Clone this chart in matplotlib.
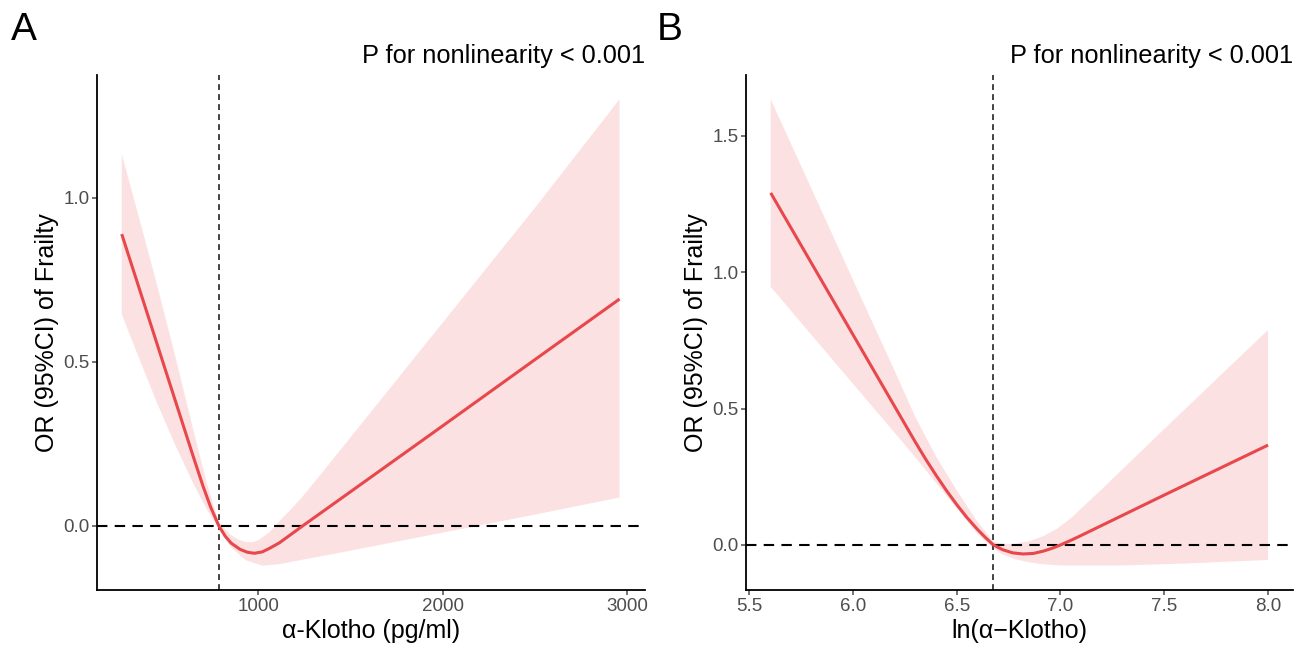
import matplotlib
matplotlib.use("Agg")
import matplotlib.pyplot as plt

plt.rcParams['font.family'] = ['Liberation Sans', 'DejaVu Sans']

# ---------------- Panel A data (alpha-Klotho, pg/ml) ----------------
a_x = [259, 350, 450, 550, 650, 700, 740, 785, 820, 852, 900, 940, 978, 1020, 1060, 1114, 1180, 1241,
       1500, 2000, 2500, 2957]
a_y = [0.889, 0.730, 0.555, 0.380, 0.205, 0.120, 0.058, 0.0, -0.032, -0.053, -0.072, -0.081, -0.084,
       -0.080, -0.069, -0.052, -0.025, 0.0, 0.104, 0.305, 0.507, 0.691]
a_up_x = [259, 350, 450, 550, 650, 720, 785, 820, 850, 890, 933, 970, 1000, 1060, 1120, 1180, 1241,
          1350, 1500, 2000, 2500, 2957]
a_up = [1.133, 0.945, 0.735, 0.515, 0.285, 0.130, 0.010, -0.012, -0.028, -0.042, -0.050, -0.050,
        -0.044, -0.020, 0.018, 0.052, 0.090, 0.165, 0.270, 0.620, 0.970, 1.300]
a_lo_x = [259, 350, 450, 550, 650, 720, 785, 850, 930, 1023, 1114, 1500, 2000, 2500, 2957]
a_lo = [0.645, 0.515, 0.375, 0.245, 0.125, 0.050, -0.010, -0.065, -0.105, -0.122, -0.117, -0.076,
        -0.021, 0.034, 0.086]
a_ref = 785
a_xticks = [1000, 2000, 3000]
a_yticks = [0.0, 0.5, 1.0]

# ---------------- Panel B data (ln alpha-Klotho) ----------------
b_x = [5.604, 5.80, 6.00, 6.20, 6.30, 6.35, 6.40, 6.45, 6.50, 6.55, 6.60, 6.64, 6.677, 6.72, 6.77,
       6.82, 6.87, 6.92, 6.96, 7.00, 7.05, 7.10, 7.50, 8.00]
b_y = [1.290, 1.033, 0.771, 0.509, 0.378, 0.315, 0.256, 0.200, 0.148, 0.100, 0.057, 0.026, 0.0,
       -0.017, -0.029, -0.033, -0.031, -0.022, -0.012, 0.0, 0.017, 0.035, 0.183, 0.366]
b_up_x = [5.604, 5.80, 6.00, 6.20, 6.30, 6.40, 6.50, 6.60, 6.677, 6.72, 6.78, 6.85, 6.92, 6.98,
          7.05, 7.20, 7.50, 8.00]
b_up = [1.633, 1.306, 0.972, 0.640, 0.470, 0.325, 0.200, 0.085, 0.012, 0.004, 0.004, 0.014, 0.033,
        0.058, 0.098, 0.205, 0.425, 0.788]
b_lo_x = [5.604, 5.80, 6.00, 6.20, 6.30, 6.40, 6.50, 6.60, 6.677, 6.72, 6.78, 6.85, 6.92, 7.00,
          7.30, 7.60, 8.00]
b_lo = [0.946, 0.770, 0.591, 0.412, 0.322, 0.228, 0.135, 0.040, -0.012, -0.035, -0.052, -0.064,
        -0.071, -0.075, -0.075, -0.068, -0.055]
b_ref = 6.677
b_xticks = [5.5, 6.0, 6.5, 7.0, 7.5, 8.0]
b_yticks = [0.0, 0.5, 1.0, 1.5]

LINE = "#E8474B"
FILL = "#FCE1E3"
TICKC = "#4D4D4D"

fig = plt.figure(figsize=(13.03, 6.45), dpi=100)
axA = fig.add_axes([97/1303, 55/645, 548/1303, 515/645])
axB = fig.add_axes([746/1303, 55/645, 547/1303, 515/645])


def style(ax, xlabel):
    for s in ['top', 'right']:
        ax.spines[s].set_visible(False)
    for s in ['left', 'bottom']:
        ax.spines[s].set_linewidth(1.3)
        ax.spines[s].set_color('black')
    ax.tick_params(axis='both', colors=TICKC, labelcolor=TICKC, labelsize=13.5,
                   length=3.5, width=1.1, pad=2)
    ax.set_xlabel(xlabel, fontsize=18, labelpad=3)
    ax.set_ylabel("OR (95%CI) of Frailty", fontsize=18, labelpad=3)
    ax.set_title("P for nonlinearity < 0.001", loc='right', fontsize=18.3, pad=9)


def draw(ax, x, y, ux, uy, lx, ly, ref):
    poly_x = list(ux) + list(lx)[::-1]
    poly_y = list(uy) + list(ly)[::-1]
    ax.fill(poly_x, poly_y, color=FILL, lw=0, zorder=1)
    ax.axhline(0, color='black', lw=1.5, ls=(0, (5, 3.5)), zorder=2)
    ax.axvline(ref, color='#222222', lw=1.2, ls=(0, (3.5, 2.5)), zorder=2)
    ax.plot(x, y, color=LINE, lw=2.2, zorder=3, solid_capstyle='butt', solid_joinstyle='round')


draw(axA, a_x, a_y, a_up_x, a_up, a_lo_x, a_lo, a_ref)
axA.set_xlim(125, 3095)
axA.set_ylim(-0.196, 1.374)
axA.set_xticks(a_xticks)
axA.set_yticks(a_yticks)
axA.set_yticklabels([f"{v:.1f}" for v in a_yticks])
style(axA, "α-Klotho (pg/ml)")

draw(axB, b_x, b_y, b_up_x, b_up, b_lo_x, b_lo, b_ref)
axB.set_xlim(5.485, 8.12)
axB.set_ylim(-0.165, 1.722)
axB.set_xticks(b_xticks)
axB.set_xticklabels([f"{v:.1f}" for v in b_xticks])
axB.set_yticks(b_yticks)
axB.set_yticklabels([f"{v:.1f}" for v in b_yticks])
style(axB, "ln(α\u2212Klotho)")

fig.text(11/1303, 1 - 40/645, "A", fontsize=28, ha='left', va='baseline')
fig.text(657/1303, 1 - 40/645, "B", fontsize=28, ha='left', va='baseline')

fig.savefig("out.png", dpi=100, facecolor='white')
